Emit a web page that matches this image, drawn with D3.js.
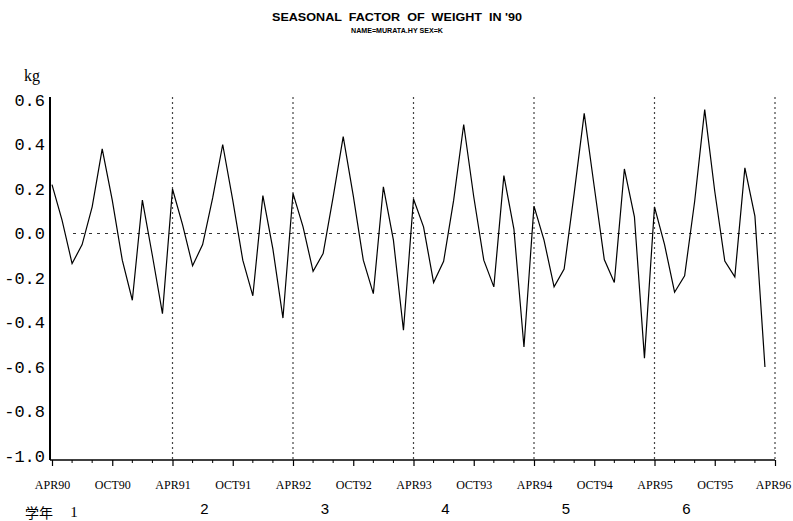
<!DOCTYPE html>
<html><head><meta charset="utf-8">
<script src="https://cdn.jsdelivr.net/npm/d3@7"></script>
<style>
body{margin:0;background:#fff;}
svg{display:block;}
</style></head>
<body><svg id="c" width="793" height="521"></svg>
<script>
const title = "SEASONAL  FACTOR  OF  WEIGHT  IN '90";
const subtitle = "NAME=MURATA.HY SEX=K";
const yUnit = "kg";
// monthly seasonal factor, APR90 .. MAR96
const year1 = [0.22, 0.06, -0.135, -0.05, 0.12, 0.38, 0.15, -0.12, -0.30, 0.15, -0.10, -0.36];
const year2 = [0.20, 0.04, -0.145, -0.05, 0.16, 0.40, 0.15, -0.12, -0.28, 0.17, -0.07, -0.38];
const year3 = [0.18, 0.03, -0.17, -0.09, 0.165, 0.435, 0.17, -0.12, -0.27, 0.21, -0.03, -0.435];
const year4 = [0.155, 0.03, -0.22, -0.125, 0.15, 0.49, 0.165, -0.12, -0.24, 0.26, 0.02, -0.51];
const year5 = [0.123, -0.03, -0.24, -0.16, 0.18, 0.54, 0.21, -0.117, -0.22, 0.29, 0.075, -0.56];
const year6 = [0.12, -0.05, -0.264, -0.19, 0.145, 0.557, 0.19, -0.124, -0.195, 0.295, 0.078, -0.60];
const values = [].concat(year1, year2, year3, year4, year5, year6);
const xTickLabels = ["APR90","OCT90","APR91","OCT91","APR92","OCT92","APR93","OCT93","APR94","OCT94","APR95","OCT95","APR96"];
const yTicks = [0.6, 0.4, 0.2, 0.0, -0.2, -0.4, -0.6, -0.8, -1.0];
const yearLabels = ["1","2","3","4","5","6"];
const yearWord = "学年";

const svg = d3.select("#c");
const x = d3.scaleLinear().domain([0, 72]).range([52, 775]);
const y = d3.scaleLinear().domain([-1.0, 0.6]).range([456, 100]);
const axisY = 460, plotTop = 97;

// title
svg.append("text").attr("x", 397).attr("y", 21).attr("text-anchor","middle")
  .attr("font-family","Liberation Sans Narrow, Liberation Sans, sans-serif").attr("font-size",11)
  .attr("font-weight","bold")
  .attr("textLength",250).attr("lengthAdjust","spacingAndGlyphs")
  .attr("style","white-space:pre").text(title);
svg.append("text").attr("x", 397).attr("y", 33).attr("text-anchor","middle")
  .attr("font-family","Liberation Sans Narrow, Liberation Sans, sans-serif").attr("font-size",6.5)
  .attr("font-weight","bold").attr("textLength",92).attr("lengthAdjust","spacingAndGlyphs").text(subtitle);

// unit
svg.append("text").attr("x", 24).attr("y", 81)
  .attr("font-family","Liberation Serif, serif").attr("font-size",16).text(yUnit);

// y axis labels
const ya = svg.append("g").attr("transform","translate(45,0)")
  .call(d3.axisLeft(y).tickValues(yTicks).tickSize(0).tickPadding(0).tickFormat(d3.format(".1f")));
ya.select(".domain").remove();
ya.selectAll("text").attr("font-family","Liberation Mono, monospace").attr("font-size",17)
  .attr("fill","#000").text(d => d3.format(".1f")(d).replace("−","-"));

// vertical dotted year lines
svg.append("g").selectAll("line").data(d3.range(12, 73, 12)).join("line")
  .attr("x1", d => x(d)).attr("x2", d => x(d)).attr("y1", plotTop).attr("y2", axisY)
  .attr("stroke","#444").attr("stroke-width",1.2).attr("stroke-dasharray","2,3");

// zero line
svg.append("line").attr("x1", 73).attr("x2", 775).attr("y1", y(0)).attr("y2", y(0))
  .attr("stroke","#333").attr("stroke-width",1).attr("stroke-dasharray","3,5");

// y axis line
svg.append("line").attr("x1", 50).attr("x2", 50).attr("y1", plotTop).attr("y2", axisY)
  .attr("stroke","#000").attr("stroke-width",2);

// x axis
const xa = svg.append("g").attr("transform",`translate(0,${axisY})`)
  .call(d3.axisBottom(x).tickValues(d3.range(0, 73, 6)).tickSize(6).tickPadding(16)
    .tickFormat((d,i) => xTickLabels[i]));
xa.select(".domain").attr("d", `M50,0H${x(72)}`).attr("stroke","#000").attr("stroke-width",1.5);
xa.selectAll("line").attr("stroke","#000").attr("stroke-width",1.2);
xa.selectAll("text").attr("font-family","Liberation Serif, serif").attr("font-size",12)
  .attr("fill","#000").attr("dy","0.6em");
xa.selectAll(".tick").filter(d => d === 72).select("text").attr("dx", -2);
svg.append("g").attr("transform",`translate(0,${axisY})`).selectAll("line")
  .data(d3.range(0, 73, 2).filter(d => d % 6 !== 0)).join("line")
  .attr("x1", d => x(d)).attr("x2", d => x(d)).attr("y1", 0).attr("y2", 3)
  .attr("stroke","#000").attr("stroke-width",1);

// year labels
svg.append("text").attr("x", 25).attr("y", 521-3)
  .attr("font-family","Noto Sans CJK JP, sans-serif").attr("font-size",14).text(yearWord);
svg.append("text").attr("x", x(0)+22).attr("y", 521-4).attr("text-anchor","middle")
  .attr("font-family","Liberation Serif, serif").attr("font-size",15).text(yearLabels[0]);
svg.append("g").selectAll("text").data(yearLabels.slice(1)).join("text")
  .attr("x", (d,i) => x((i+1)*12) + 32).attr("y", 514).attr("text-anchor","middle")
  .attr("font-family","Liberation Sans, sans-serif").attr("font-size",15).text(d => d);

// data line
svg.append("path").datum(values)
  .attr("fill","none").attr("stroke","#000").attr("stroke-width",1.2).attr("stroke-linejoin","miter")
  .attr("d", d3.line().x((d,i) => x(i)).y(d => y(d)));
</script></body></html>
